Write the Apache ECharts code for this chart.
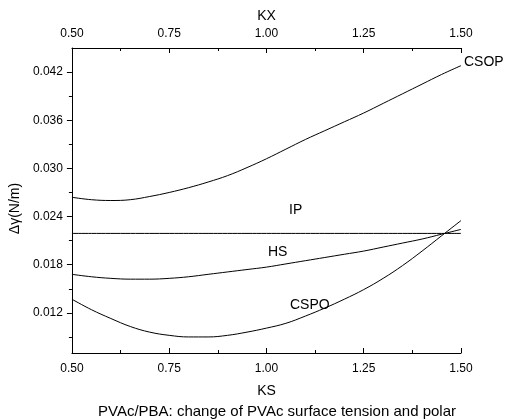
<!DOCTYPE html>
<html><head><meta charset="utf-8">
<script src="https://cdn.jsdelivr.net/npm/echarts@6/dist/echarts.min.js"></script>
<style>html,body{margin:0;padding:0;background:#fff}#c{width:506px;height:420px}</style>
</head><body><div id="c"></div>
<script>
// ---- data ----
const ks = [0.50,0.55,0.60,0.65,0.70,0.75,0.80,0.85,0.90,0.95,1.00,1.05,1.10,1.15,1.20,1.25,1.30,1.35,1.40,1.45,1.50];
const csop = [0.0264,0.0261,0.0260,0.0261,0.0265,0.0270,0.0276,0.0283,0.0291,0.0301,0.0312,0.0324,0.0336,0.0347,0.0358,0.0369,0.0381,0.0393,0.0405,0.0417,0.0428];
const ip   = [0.0219,0.0219,0.0219,0.0219,0.0219,0.0219,0.0219,0.0219,0.0219,0.0219,0.0219,0.0219,0.0219,0.0219,0.0219,0.0219,0.0219,0.0219,0.0219,0.0219,0.0219];
const hs   = [0.0168,0.0165,0.0163,0.0162,0.0162,0.0163,0.0165,0.0168,0.0171,0.0174,0.0177,0.0181,0.0185,0.0189,0.0193,0.0197,0.0202,0.0207,0.0212,0.0218,0.0224];
const cspo = [0.0137,0.0124,0.0113,0.0103,0.0096,0.0092,0.0090,0.0090,0.0092,0.0096,0.0101,0.0107,0.0116,0.0126,0.0137,0.0149,0.0163,0.0179,0.0197,0.0216,0.0235];
const yTicks = [0.012,0.018,0.024,0.030,0.036,0.042];
const yMinor = [0.009,0.015,0.021,0.027,0.033,0.039];
const xName = 'KS', x2Name = 'KX', yName = 'Δγ(N/m)';
const caption = 'PVAc/PBA: change of PVAc surface tension and polar';
const curveNames = ['CSOP','IP','HS','CSPO'];

// ---- chart ----
const FONT = "'Liberation Sans', Arial, sans-serif";
const pairs = v => ks.map((x,i)=>[x,v[i]]);
const chart = echarts.init(document.getElementById('c'), null, {renderer:'canvas'});
const lineStyle = {color:'#000', width:1};
const axisCommon = {
  type:'value', min:0.5, max:1.5, interval:0.25,
  axisLine:{show:true, onZero:false, lineStyle:{color:'#000', width:1}},
  axisTick:{show:true, inside:true, length:5, lineStyle:{color:'#000'}},
  minorTick:{show:true, splitNumber:2, length:3, lineStyle:{color:'#000'}},
  splitLine:{show:false},
  nameLocation:'middle',
  nameTextStyle:{fontFamily:FONT, fontSize:14, color:'#000'}
};
const mk = (name, data) => ({
  name, type:'line', data:pairs(data), smooth:0.4, showSymbol:false, symbol:'none',
  lineStyle, xAxisIndex:0, yAxisIndex:0, silent:true, animation:false
});
chart.setOption({
  animation:false,
  backgroundColor:'#fff',
  grid:{left:71, right:45, top:48, bottom:67, containLabel:false},
  title:{text:caption, left:272, top:399, textAlign:'center',
    textStyle:{fontFamily:FONT, fontSize:15, fontWeight:'normal', color:'#000'}},
  xAxis:[
    Object.assign({}, axisCommon, {position:'bottom', name:xName, nameGap:31,
      axisLabel:{margin:10, fontFamily:FONT, fontSize:12, color:'#000', formatter:v=>v.toFixed(2)}}),
    Object.assign({}, axisCommon, {position:'top', name:x2Name, nameGap:22,
      axisLabel:{margin:8, fontFamily:FONT, fontSize:12, color:'#000', formatter:v=>v.toFixed(2)}})
  ],
  yAxis:[
    {type:'value', min:0.007, max:0.045, position:'left',
      axisLine:{show:true, onZero:false, lineStyle:{color:'#000', width:1}},
      axisTick:{show:true, inside:false, length:5, customValues:yTicks, lineStyle:{color:'#000'}},
      axisLabel:{margin:9, customValues:yTicks, fontFamily:FONT, fontSize:12, color:'#000', formatter:v=>v.toFixed(3)},
      splitLine:{show:false},
      name:yName, nameLocation:'middle', nameGap:48, nameRotate:90,
      nameTextStyle:{fontFamily:FONT, fontSize:14, color:'#000', padding:[0,16,0,0]}},
    {type:'value', min:0.007, max:0.045, position:'left',
      axisLine:{show:false},
      axisTick:{show:true, inside:false, length:3, customValues:yMinor, lineStyle:{color:'#000'}},
      axisLabel:{show:false},
      splitLine:{show:false}}
  ],
  series:[mk(curveNames[0], csop), mk(curveNames[1], ip), mk(curveNames[2], hs), mk(curveNames[3], cspo)],
  graphic:[
    {type:'text', left:464, top:55, style:{text:curveNames[0], font:'14px '+FONT, fill:'#000'}},
    {type:'text', left:289, top:203, style:{text:curveNames[1], font:'14px '+FONT, fill:'#000'}},
    {type:'text', left:268, top:245, style:{text:curveNames[2], font:'14px '+FONT, fill:'#000'}},
    {type:'text', left:290, top:298, style:{text:curveNames[3], font:'14px '+FONT, fill:'#000'}}
  ]
});
</script></body></html>
